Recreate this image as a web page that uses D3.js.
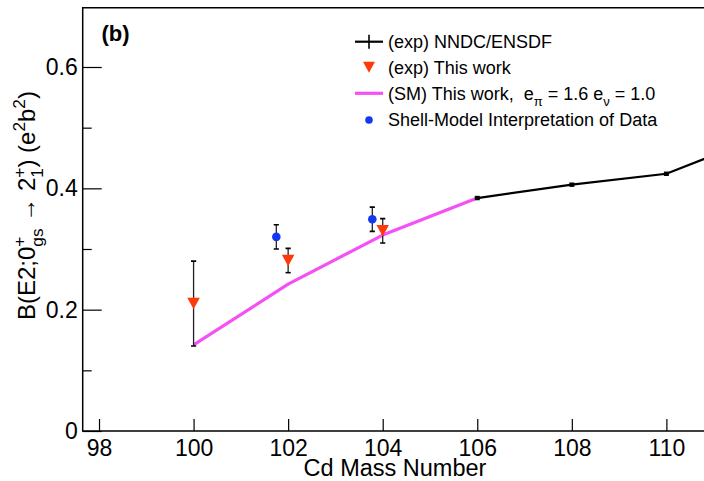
<!DOCTYPE html>
<html>
<head>
<meta charset="utf-8">
<script src="https://cdn.jsdelivr.net/npm/d3@7"></script>
<style>
  html, body { margin: 0; padding: 0; background: #fff; }
  svg { display: block; font-family: "Liberation Sans", Arial, Helvetica, sans-serif; }
</style>
</head>
<body>
<svg id="chart" width="704" height="481"></svg>
<script>
// Cd isotopes: B(E2; 0+gs -> 2+1) values in e^2 b^2
const massTicks = [98, 100, 102, 104, 106, 108, 110];
const yMajorTicks = [0, 0.2, 0.4, 0.6];
const yMinorTicks = [0.1, 0.3, 0.5];

// (exp) NNDC/ENSDF evaluated values
const nndcMass = [106, 108, 110, 112];
const nndcBE2 = [0.384, 0.406, 0.424, 0.485];

// (exp) this work
const expMass = [100, 102, 104];
const expBE2 = [0.210, 0.281, 0.330];
const expErr = [0.070, 0.020, 0.020];

// (SM) shell-model calculation, e_pi = 1.6, e_nu = 1.0
const smMass = [100, 102, 104, 106];
const smBE2 = [0.142, 0.242, 0.323, 0.384];

// shell-model interpretation of the data
const interpMass = [101.75, 103.78];
const interpBE2 = [0.320, 0.349];
const interpErr = [0.020, 0.020];

const legendLabels = [
  "(exp) NNDC/ENSDF",
  "(exp) This work",
  "(SM) This work,",
  "Shell-Model Interpretation of Data"
];

const colors = { nndc: "#000000", exp: "#ff3a0a", sm: "#f550f5", interp: "#1238f2" };

const svg = d3.select("#chart");
const plot = { left: 82.7, right: 708, top: 7.7, bottom: 431 };

const x = d3.scaleLinear().domain([97.655, 110.88]).range([plot.left, plot.right]);
const y = d3.scaleLinear().domain([0, 0.6]).range([plot.bottom, 67]);

svg.append("defs").append("clipPath").attr("id", "plotClip")
  .append("rect")
  .attr("x", plot.left).attr("y", plot.top)
  .attr("width", plot.right - plot.left).attr("height", plot.bottom - plot.top);

// frame
svg.append("path")
  .attr("d", `M${plot.right},${plot.top}H${plot.left}V${plot.bottom}H${plot.right}`)
  .attr("fill", "none").attr("stroke", "#000").attr("stroke-width", 1.5);

// x axis ticks (pointing inward) and labels
const xAxis = d3.axisBottom(x).tickValues(massTicks).tickSize(-12).tickPadding(9)
  .tickFormat(d3.format("d"));
const gx = svg.append("g").attr("transform", `translate(0,${plot.bottom})`).call(xAxis);
gx.select(".domain").remove();
gx.selectAll(".tick line").attr("stroke", "#000").attr("stroke-width", 1.2);
gx.selectAll(".tick text").attr("font-size", 23).attr("fill", "#000")
  .attr("font-family", "Liberation Sans, Arial, sans-serif");

// y axis major ticks and labels
const yAxis = d3.axisLeft(y).tickValues(yMajorTicks).tickSize(-19).tickPadding(5)
  .tickFormat(d => d === 0 ? "0" : d3.format(".1f")(d));
const gy = svg.append("g").attr("transform", `translate(${plot.left},0)`).call(yAxis);
gy.select(".domain").remove();
gy.selectAll(".tick line").attr("stroke", "#000").attr("stroke-width", 1.2);
gy.selectAll(".tick text").attr("font-size", 23).attr("fill", "#000")
  .attr("font-family", "Liberation Sans, Arial, sans-serif");

// y axis minor ticks
const yMinor = d3.axisLeft(y).tickValues(yMinorTicks).tickSize(-9).tickFormat("");
const gym = svg.append("g").attr("transform", `translate(${plot.left},0)`).call(yMinor);
gym.select(".domain").remove();
gym.selectAll(".tick line").attr("stroke", "#000").attr("stroke-width", 1.2);

// axis title x
svg.append("text")
  .attr("x", 395).attr("y", 476)
  .attr("text-anchor", "middle")
  .attr("font-size", 23.5)
  .text("Cd Mass Number");

// rich text helper: pieces drawn left to right with super/subscripts
function richText(g, pieces, size, supDy, subDy) {
  let pos = 0;
  const s = size * 0.72;
  pieces.forEach(p => {
    if (p.sup !== undefined || p.sub !== undefined) {
      let w = 0;
      if (p.sup !== undefined) {
        const t = g.append("text").attr("x", pos).attr("y", supDy).attr("font-size", s).text(p.sup);
        w = Math.max(w, t.node().getComputedTextLength());
      }
      if (p.sub !== undefined) {
        const t = g.append("text").attr("x", pos).attr("y", subDy).attr("font-size", s).text(p.sub);
        w = Math.max(w, t.node().getComputedTextLength());
      }
      pos += w;
    } else {
      const t = g.append("text").attr("x", pos).attr("y", 0).attr("font-size", size).text(p.t);
      pos += t.node().getComputedTextLength();
    }
  });
  return pos;
}

// axis title y (rotated)
const yTitle = svg.append("g").attr("transform", "translate(35,320) rotate(-90)");
richText(yTitle, [
  { t: "B(E2;0" },
  { sup: "+", sub: "gs" },
  { t: "\u00a0\u2192\u00a02" },
  { sup: "+", sub: "1" },
  { t: ")\u00a0(e" },
  { sup: "2" },
  { t: "b" },
  { sup: "2" },
  { t: ")" }
], 24, -10, 8);

// panel label
svg.append("text")
  .attr("x", 101.5).attr("y", 40.5)
  .attr("font-size", 22).attr("font-weight", "bold")
  .text("(b)");

const data = svg.append("g").attr("clip-path", "url(#plotClip)");

// shell-model curve
data.append("path")
  .datum(smMass.map((m, i) => [m, smBE2[i]]))
  .attr("fill", "none").attr("stroke", colors.sm).attr("stroke-width", 3.2)
  .attr("stroke-linejoin", "round")
  .attr("d", d3.line().x(d => x(d[0])).y(d => y(d[1])));

// NNDC/ENSDF line with small markers
const nndc = nndcMass.map((m, i) => [m, nndcBE2[i]]);
data.append("path")
  .datum(nndc)
  .attr("fill", "none").attr("stroke", colors.nndc).attr("stroke-width", 2.2)
  .attr("d", d3.line().x(d => x(d[0])).y(d => y(d[1])));
data.selectAll("rect.nndc").data(nndc).join("rect")
  .attr("class", "nndc")
  .attr("x", d => x(d[0]) - 2.5).attr("y", d => y(d[1]) - 2.2)
  .attr("width", 5).attr("height", 4.4).attr("fill", "#000");

// error bars
function errorBars(ms, vs, es) {
  const g = data.append("g");
  ms.forEach((m, i) => {
    const cx = x(m), y1 = y(vs[i] + es[i]), y2 = y(vs[i] - es[i]);
    g.append("line").attr("x1", cx).attr("x2", cx).attr("y1", y1).attr("y2", y2)
      .attr("stroke", "#222").attr("stroke-width", 1.3);
    [y1, y2].forEach(yy => g.append("line")
      .attr("x1", cx - 2.6).attr("x2", cx + 2.6).attr("y1", yy).attr("y2", yy)
      .attr("stroke", "#000").attr("stroke-width", 1.6));
  });
}
errorBars(expMass, expBE2, expErr);
errorBars(interpMass, interpBE2, interpErr);

// triangle-down markers
const tri = (cx, cy, w, h) => `M${cx - w / 2},${cy - h / 2}L${cx + w / 2},${cy - h / 2}L${cx},${cy + h / 2}Z`;
data.selectAll("path.exp").data(expMass).join("path")
  .attr("class", "exp")
  .attr("d", (m, i) => tri(x(m), y(expBE2[i]), 12.5, 11.5))
  .attr("fill", colors.exp);

// circle markers
data.selectAll("circle.interp").data(interpMass).join("circle")
  .attr("class", "interp")
  .attr("cx", m => x(m)).attr("cy", (m, i) => y(interpBE2[i]))
  .attr("r", 4.3).attr("fill", colors.interp);

// legend
const legend = svg.append("g");
const rowY = [41.7, 67.3, 93.3, 120];
const textX = 388, symX = 369;
// row 1
legend.append("line").attr("x1", 355).attr("x2", 383).attr("y1", rowY[0]).attr("y2", rowY[0])
  .attr("stroke", "#000").attr("stroke-width", 2.2);
legend.append("line").attr("x1", symX).attr("x2", symX).attr("y1", rowY[0] - 7).attr("y2", rowY[0] + 7)
  .attr("stroke", "#000").attr("stroke-width", 1.6);
// row 2
legend.append("path").attr("d", tri(symX, rowY[1], 12, 11)).attr("fill", colors.exp);
// row 3
legend.append("line").attr("x1", 355).attr("x2", 383).attr("y1", rowY[2]).attr("y2", rowY[2])
  .attr("stroke", colors.sm).attr("stroke-width", 3.2);
// row 4
legend.append("circle").attr("cx", symX).attr("cy", rowY[3]).attr("r", 3.8).attr("fill", colors.interp);

const lsize = 18;
[0, 1, 3].forEach(i => {
  legend.append("text").attr("x", textX).attr("y", rowY[i] + 6.4)
    .attr("font-size", lsize).text(legendLabels[i]);
});
const row3 = legend.append("g").attr("transform", `translate(${textX},${rowY[2] + 6.4})`);
richText(row3, [
  { t: legendLabels[2] + "\u00a0\u00a0e" },
  { sub: "\u03c0" },
  { t: "\u00a0= 1.6 e" },
  { sub: "\u03bd" },
  { t: "\u00a0= 1.0" }
], lsize, -8, 6);
</script>
</body>
</html>
